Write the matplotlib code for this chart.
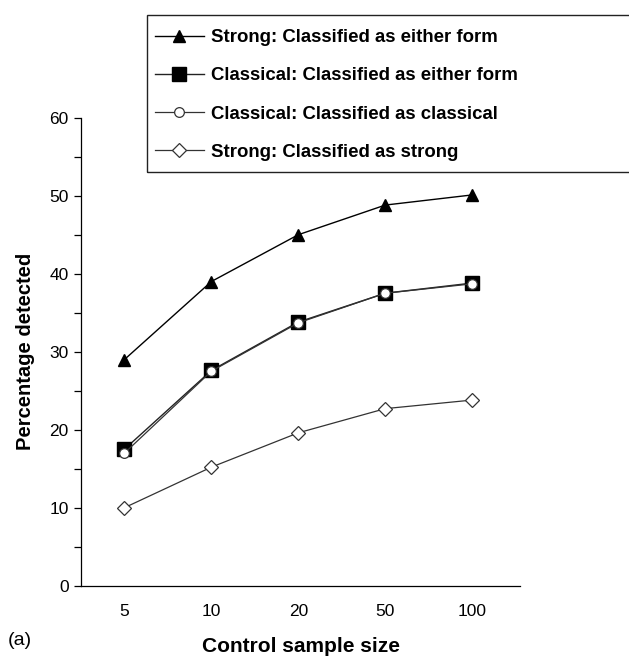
import matplotlib
matplotlib.use("Agg")
import matplotlib.pyplot as plt
from matplotlib.patches import Rectangle
from matplotlib.ticker import MultipleLocator

# Dados
sample_sizes = ["5", "10", "20", "50", "100"]
strong_either = [29.0, 39.0, 45.0, 48.8, 50.1]
classical_either = [17.5, 27.6, 33.8, 37.5, 38.8]
classical_classical = [17.0, 27.5, 33.7, 37.5, 38.7]
strong_strong = [10.0, 15.2, 19.6, 22.7, 23.8]

plt.rcParams["font.family"] = ["Liberation Sans", "DejaVu Sans"]

fig = plt.figure(figsize=(6.29, 6.58), dpi=100)
ax = fig.add_axes([0.1288, 0.1099, 0.6979, 0.7112])

x = range(len(sample_sizes))

# Desenha as series (o circulo fica por cima do quadrado)
l4, = ax.plot(x, strong_strong, color="#333333", lw=0.9, marker="D",
              markersize=7, markerfacecolor="white",
              markeredgecolor="#333333", markeredgewidth=0.9,
              label="Strong: Classified as strong")
l1, = ax.plot(x, strong_either, color="black", lw=1.0, marker="^",
              markersize=9, markerfacecolor="black", markeredgecolor="black",
              label="Strong: Classified as either form")
l2, = ax.plot(x, classical_either, color="#222222", lw=1.0, marker="s",
              markersize=9.5, markerfacecolor="black", markeredgecolor="black",
              label="Classical: Classified as either form")
l3, = ax.plot(x, classical_classical, color="#333333", lw=0.9, marker="o",
              markersize=7, markerfacecolor="white",
              markeredgecolor="#333333", markeredgewidth=0.9,
              label="Classical: Classified as classical")

# Eixos
ax.set_xlim(-0.5, len(sample_sizes) - 0.45)
ax.set_ylim(0, 60)
ax.set_xticks(list(x))
ax.set_xticklabels(sample_sizes)
ax.yaxis.set_major_locator(MultipleLocator(10))
ax.yaxis.set_minor_locator(MultipleLocator(5))

for side in ["top", "right"]:
    ax.spines[side].set_visible(False)
ax.spines["left"].set_linewidth(0.9)
ax.spines["bottom"].set_linewidth(0.9)

ax.tick_params(axis="x", length=0, pad=13.5, labelsize=12.5)
ax.tick_params(axis="y", which="major", direction="out", length=5,
               width=0.9, pad=4, labelsize=12.5)
ax.tick_params(axis="y", which="minor", direction="out", length=5, width=0.9)

ax.set_xlabel("Control sample size", fontsize=15, fontweight="bold",
              labelpad=13)
ax.set_ylabel("Percentage detected", fontsize=14.5, fontweight="bold",
              labelpad=10)

# Legenda com moldura que passa da borda da figura
fig.patches.append(Rectangle((0.2337, 0.739), 0.9, 0.238, fill=False,
                             edgecolor="#222222", lw=1.0,
                             transform=fig.transFigure, figure=fig))
ax.legend(handles=[l1, l2, l3, l4], loc="upper left",
          bbox_to_anchor=(0.2464, 0.9553), bbox_transform=fig.transFigure,
          frameon=False, prop={"weight": "bold", "size": 13.4},
          handlelength=2.63, handletextpad=0.38, labelspacing=1.13,
          borderpad=0, borderaxespad=0)

fig.text(0.013, 0.027, "(a)", fontsize=14, va="center")

fig.savefig("out.png", dpi=100)
